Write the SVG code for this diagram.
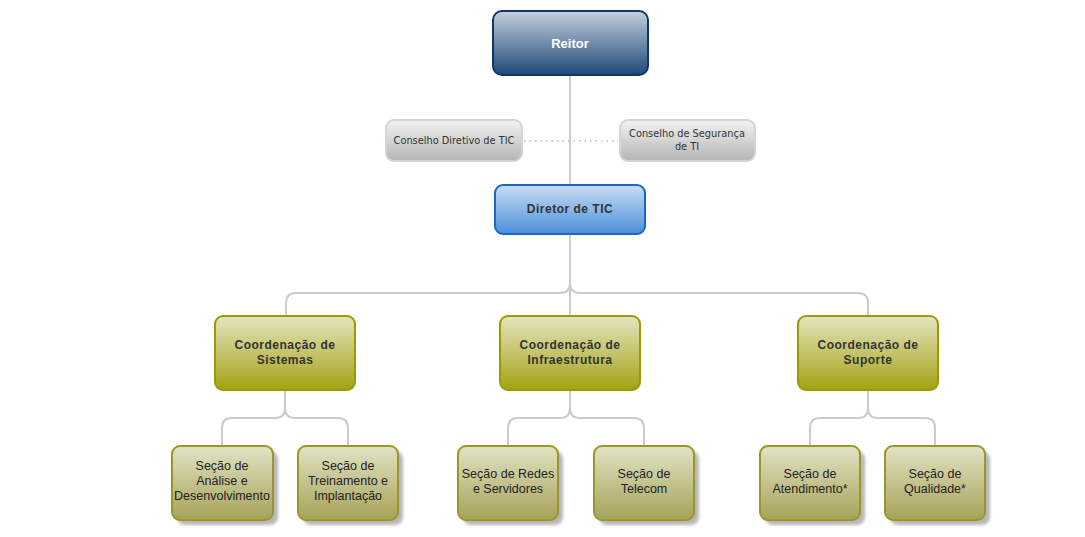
<svg xmlns="http://www.w3.org/2000/svg" width="1085" height="537" viewBox="0 0 1085 537">
<defs>
<linearGradient id="gNavy" x1="0" y1="0" x2="0" y2="1"><stop offset="0" stop-color="#c4d0de"/><stop offset="1" stop-color="#1e4777"/></linearGradient>
<linearGradient id="gGray" x1="0" y1="0" x2="0" y2="1"><stop offset="0" stop-color="#f2f2f2"/><stop offset="1" stop-color="#b5b5b5"/></linearGradient>
<linearGradient id="gBlue" x1="0" y1="0" x2="0" y2="1"><stop offset="0" stop-color="#c8def4"/><stop offset="1" stop-color="#4b8fdb"/></linearGradient>
<linearGradient id="gOlive" x1="0" y1="0" x2="0" y2="1"><stop offset="0" stop-color="#e4e4c0"/><stop offset="1" stop-color="#a3a314"/></linearGradient>
<linearGradient id="gOlive2" x1="0" y1="0" x2="0" y2="1"><stop offset="0" stop-color="#e2e2c4"/><stop offset="1" stop-color="#a6a358"/></linearGradient>
<filter id="sh" x="-20%" y="-20%" width="150%" height="150%"><feGaussianBlur stdDeviation="1.5"/></filter>
</defs>
<style>
.con{fill:none;stroke:#cbcbcb;stroke-width:2}
.dot{fill:none;stroke:#b8b8b8;stroke-width:1.5;stroke-dasharray:1.5 4}
.navy{fill:url(#gNavy);stroke:#0c3768;stroke-width:2}
.gray{fill:url(#gGray);stroke:#d4d4d4;stroke-width:2}
.blue{fill:url(#gBlue);stroke:#1768c9;stroke-width:2}
.olive{fill:url(#gOlive);stroke:#9b9b00;stroke-width:2}
.sec{fill:url(#gOlive2);stroke:#9b9628;stroke-width:2}
.shd{fill:#9a9a9a;opacity:0.7;filter:url(#sh)}
.t{font-family:"Liberation Sans",Arial,sans-serif;text-anchor:middle}
.tb{font-weight:bold;fill:#333;font-size:12px;letter-spacing:0.5px}
.ts{font-family:"DejaVu Sans",Verdana,sans-serif;font-size:9.8px;fill:#333;text-anchor:middle}
.tsec{font-size:12.5px;fill:#222}
</style>
<g id="connectors">
<line class="con" x1="570" y1="75" x2="570" y2="185"/>
<line class="dot" x1="524" y1="141" x2="618" y2="141"/>
<path class="con" d="M570,234 V283 Q570,293 560,293 H296 Q286,293 286,303 V316"/>
<path class="con" d="M570,283 Q570,293 580,293 H858 Q868,293 868,303 V316"/>
<path class="con" d="M570,283 V316"/>
<path class="con" d="M285,390 V408 Q285,418 275,418 H232 Q222,418 222,428 V446"/>
<path class="con" d="M285,408 Q285,418 295,418 H338 Q348,418 348,428 V446"/>
<path class="con" d="M570,390 V408 Q570,418 560,418 H518 Q508,418 508,428 V446"/>
<path class="con" d="M570,408 Q570,418 580,418 H634 Q644,418 644,428 V446"/>
<path class="con" d="M868,390 V408 Q868,418 858,418 H820 Q810,418 810,428 V446"/>
<path class="con" d="M868,408 Q868,418 878,418 H925 Q935,418 935,428 V446"/>
</g>
<g id="reitor"><rect class="navy" x="493" y="11" width="155" height="64" rx="9"/><text class="t" x="570" y="48" font-size="13" font-weight="bold" fill="#fff">Reitor</text></g>
<g id="conselho-diretivo"><rect class="gray" x="386" y="120" width="136" height="41" rx="8"/><text class="ts" x="454" y="144">Conselho Diretivo de TIC</text></g>
<g id="conselho-seguranca"><rect class="gray" x="620" y="120" width="135" height="41" rx="8"/><text class="ts" x="687" y="137">Conselho de Segurança</text><text class="ts" x="687" y="150">de TI</text></g>
<g id="diretor"><rect class="blue" x="495" y="185" width="150" height="49" rx="8"/><text class="t tb" x="570" y="213" letter-spacing="0">Diretor de TIC</text></g>
<g id="coord-sistemas"><rect class="olive" x="215" y="316" width="140" height="74" rx="8"/><text class="t tb" x="285" y="349">Coordenação de</text><text class="t tb" x="285" y="364">Sistemas</text></g>
<g id="coord-infra"><rect class="olive" x="500" y="316" width="140" height="74" rx="8"/><text class="t tb" x="570" y="349">Coordenação de</text><text class="t tb" x="570" y="364">Infraestrutura</text></g>
<g id="coord-suporte"><rect class="olive" x="798" y="316" width="140" height="74" rx="8"/><text class="t tb" x="868" y="349">Coordenação de</text><text class="t tb" x="868" y="364">Suporte</text></g>
<g id="sec-analise"><rect class="shd" x="177" y="451" width="101" height="74" rx="8"/><rect class="sec" x="172" y="446" width="101" height="74" rx="8"/><text class="t tsec" x="222" y="470">Seção de</text><text class="t tsec" x="222" y="485">Análise e</text><text class="t tsec" x="222" y="500">Desenvolvimento</text></g>
<g id="sec-treinamento"><rect class="shd" x="303" y="451" width="100" height="74" rx="8"/><rect class="sec" x="298" y="446" width="100" height="74" rx="8"/><text class="t tsec" x="348" y="470">Seção de</text><text class="t tsec" x="348" y="485">Treinamento e</text><text class="t tsec" x="348" y="500">Implantação</text></g>
<g id="sec-redes"><rect class="shd" x="463" y="451" width="100" height="74" rx="8"/><rect class="sec" x="458" y="446" width="100" height="74" rx="8"/><text class="t tsec" x="508" y="478">Seção de Redes</text><text class="t tsec" x="508" y="493">e Servidores</text></g>
<g id="sec-telecom"><rect class="shd" x="599" y="451" width="100" height="74" rx="8"/><rect class="sec" x="594" y="446" width="100" height="74" rx="8"/><text class="t tsec" x="644" y="478">Seção de</text><text class="t tsec" x="644" y="493">Telecom</text></g>
<g id="sec-atendimento"><rect class="shd" x="765" y="451" width="100" height="74" rx="8"/><rect class="sec" x="760" y="446" width="100" height="74" rx="8"/><text class="t tsec" x="810" y="478">Seção de</text><text class="t tsec" x="810" y="493">Atendimento*</text></g>
<g id="sec-qualidade"><rect class="shd" x="890" y="451" width="100" height="74" rx="8"/><rect class="sec" x="885" y="446" width="100" height="74" rx="8"/><text class="t tsec" x="935" y="478">Seção de</text><text class="t tsec" x="935" y="493">Qualidade*</text></g>
</svg>
